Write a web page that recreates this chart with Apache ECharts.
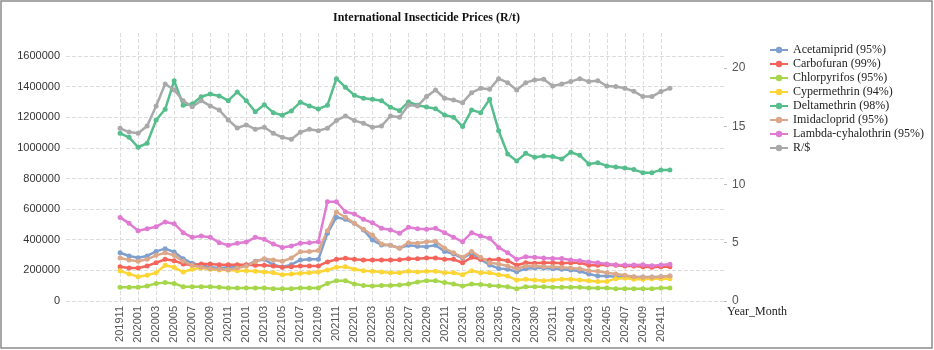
<!DOCTYPE html>
<html lang="en">
<head>
<meta charset="UTF-8">
<script src="https://cdn.jsdelivr.net/npm/echarts@6/dist/echarts.min.js"></script>
<title>International Insecticide Prices</title>
<style>
  html, body { margin: 0; padding: 0; background: #fff; }
</style>
</head>
<body>
<div id="main" style="width:934px;height:350px;"></div>
<script type="text/javascript">
// months 201911 .. 202412
var months = [
  '201911','201912','202001','202002','202003','202004','202005','202006','202007','202008','202009','202010','202011','202012',
  '202101','202102','202103','202104','202105','202106','202107','202108','202109','202110','202111','202112',
  '202201','202202','202203','202204','202205','202206','202207','202208','202209','202210','202211','202212',
  '202301','202302','202303','202304','202305','202306','202307','202308','202309','202310','202311','202312',
  '202401','202402','202403','202404','202405','202406','202407','202408','202409','202410','202411','202412'
];

// R/t values (left axis)
var acetamiprid = [315000,294000,283000,294000,324000,342000,320000,276000,246000,233000,220000,216000,220000,220000,
  233000,259000,272000,237000,222000,237000,268000,272000,272000,442000,547000,533000,
  507000,464000,398000,366000,364000,346000,364000,357000,355000,364000,324000,307000,
  279000,312000,272000,235000,213000,207000,191000,211000,216000,216000,211000,207000,
  202000,194000,176000,163000,163000,159000,159000,157000,157000,157000,159000,163000];
var carbofuran = [224000,216000,216000,229000,250000,272000,263000,242000,233000,242000,242000,237000,237000,237000,
  237000,233000,233000,229000,220000,224000,229000,229000,229000,255000,272000,279000,
  272000,268000,268000,268000,268000,270000,276000,276000,281000,281000,272000,272000,
  250000,285000,272000,268000,272000,263000,233000,250000,246000,250000,250000,246000,
  250000,250000,233000,233000,237000,233000,229000,229000,224000,220000,224000,224000];
var chlorpyrifos = [89000,89000,89000,98000,115000,120000,115000,93000,93000,93000,93000,89000,85000,85000,
  85000,85000,85000,80000,80000,80000,85000,85000,85000,115000,133000,133000,
  111000,102000,98000,102000,102000,105000,111000,124000,133000,133000,120000,111000,
  98000,111000,107000,102000,98000,93000,80000,93000,93000,93000,89000,89000,
  89000,89000,85000,85000,85000,80000,80000,80000,80000,80000,85000,85000];
var cypermethrin = [198000,176000,159000,168000,185000,233000,220000,189000,207000,216000,207000,202000,202000,198000,
  198000,194000,189000,185000,172000,176000,181000,185000,189000,202000,220000,224000,
  207000,198000,194000,189000,185000,185000,194000,189000,194000,194000,185000,185000,
  172000,198000,185000,185000,172000,163000,137000,142000,137000,133000,137000,142000,
  142000,137000,133000,128000,128000,146000,150000,142000,142000,146000,146000,146000];
var deltamethrin = [1095000,1069000,1004000,1030000,1182000,1252000,1439000,1278000,1287000,1334000,1352000,1339000,1308000,1365000,
  1308000,1236000,1282000,1230000,1213000,1241000,1298000,1274000,1254000,1278000,1452000,1396000,
  1343000,1324000,1317000,1308000,1265000,1243000,1300000,1278000,1267000,1256000,1215000,1200000,
  1139000,1247000,1230000,1317000,1112000,960000,914000,964000,938000,947000,943000,927000,
  971000,951000,895000,903000,882000,875000,869000,858000,838000,838000,856000,856000];
var imidacloprid = [281000,268000,259000,272000,298000,315000,298000,259000,233000,220000,211000,207000,202000,216000,
  229000,257000,276000,268000,259000,281000,322000,324000,329000,459000,581000,547000,
  507000,468000,431000,372000,364000,344000,381000,377000,387000,390000,344000,315000,
  285000,324000,285000,250000,242000,229000,211000,229000,229000,224000,224000,220000,
  216000,211000,198000,194000,185000,176000,168000,159000,155000,155000,159000,163000];
var lambda = [546000,507000,459000,472000,485000,516000,505000,446000,416000,424000,416000,381000,364000,377000,
  385000,416000,403000,372000,350000,359000,377000,381000,387000,648000,648000,583000,
  568000,533000,511000,475000,464000,442000,481000,472000,468000,475000,446000,416000,
  387000,446000,424000,409000,350000,315000,272000,289000,285000,281000,278000,278000,
  268000,263000,255000,250000,242000,237000,235000,235000,237000,230000,235000,240000];
// exchange rate (right axis)
var randDollar = [14.82,14.5,14.39,15.02,16.74,18.63,18.11,17.19,16.68,17.19,16.74,16.39,15.54,14.85,
  15.11,14.74,14.91,14.39,14.05,13.88,14.48,14.74,14.62,14.82,15.48,15.88,
  15.48,15.25,14.91,15.02,15.88,15.77,16.82,16.74,17.54,18.11,17.4,17.25,
  17.02,17.88,18.25,18.17,19.08,18.74,18.11,18.74,18.97,19.03,18.45,18.63,
  18.83,19.08,18.83,18.91,18.45,18.4,18.25,18.0,17.54,17.54,17.97,18.25];

var leftTicks = { min: 0, max: 1750000, interval: 200000 };
var rightTicks = { min: 0, max: 23, interval: 5 };

// empty slots either side of the months, as in the original
var PAD = 6;
var cats = [];
for (var i = 0; i < PAD; i++) cats.push('pre' + i);
cats = cats.concat(months);
for (var j = 0; j < PAD; j++) cats.push('post' + j);

function padded(arr) {
  var out = [];
  for (var k = 0; k < PAD; k++) out.push(null);
  return out.concat(arr);
}
function isShown(idx) {
  var m = idx - PAD;
  return m >= 0 && m < months.length && m % 2 === 0;
}

var names = ['Acetamiprid (95%)','Carbofuran (99%)','Chlorpyrifos (95%)','Cypermethrin (94%)',
  'Deltamethrin (98%)','Imidacloprid (95%)','Lambda-cyhalothrin (95%)','R/$'];
var colors = ['#7f9fcf','#f4645a','#a6d64a','#fdd535','#56be8c','#dca88a','#e07bd3','#a9a9a9'];
var values = [acetamiprid, carbofuran, chlorpyrifos, cypermethrin, deltamethrin, imidacloprid, lambda, randDollar];

var series = names.map(function (n, s) {
  return {
    name: n,
    type: 'line',
    yAxisIndex: s === 7 ? 1 : 0,
    data: padded(values[s]),
    symbol: 'circle',
    symbolSize: 5,
    showAllSymbol: true,
    lineStyle: { width: 2.5 },
    emphasis: { disabled: true }
  };
});

var myChart = echarts.init(document.getElementById('main'));
var option = {
  animation: false,
  color: colors,
  title: {
    text: 'International Insecticide Prices (R/t)',
    left: 328,
    top: 7,
    textStyle: { fontFamily: 'Liberation Serif', fontSize: 12, fontWeight: 'bold', color: '#111' }
  },
  legend: {
    orient: 'vertical',
    left: 764,
    top: 39,
    itemGap: 2,
    itemWidth: 18,
    itemHeight: 8,
    textStyle: { fontFamily: 'Liberation Serif', fontSize: 12, color: '#222' },
    data: names
  },
  grid: { left: 66, right: 210, top: 33, bottom: 49 },
  xAxis: {
    type: 'category',
    boundaryGap: false,
    data: cats,
    name: 'Year_Month',
    nameLocation: 'end',
    nameGap: 3,
    nameMoveOverlap: false,
    nameTextStyle: { fontFamily: 'Liberation Serif', fontSize: 12, color: '#222', verticalAlign: 'top', padding: [5, 0, 0, 0] },
    axisLine: { show: false },
    axisTick: { show: false },
    axisLabel: {
      interval: function (idx) { return isShown(idx); },
      rotate: 90,
      margin: 5,
      fontFamily: 'Liberation Sans',
      fontSize: 11,
      color: '#555'
    },
    splitLine: {
      show: true,
      interval: function (idx) { return isShown(idx); },
      lineStyle: { type: 'dashed', color: '#dcdcdc', width: 1 }
    }
  },
  yAxis: [
    {
      type: 'value',
      min: leftTicks.min,
      max: leftTicks.max,
      interval: leftTicks.interval,
      axisLine: { show: false },
      axisTick: { show: false },
      axisLabel: {
        showMaxLabel: false, margin: 6, fontFamily: 'Liberation Sans', fontSize: 11, color: '#333',
        formatter: function (v) { return String(v); }
      },
      splitLine: { show: true, showMaxLine: false, lineStyle: { type: 'dashed', color: '#dcdcdc', width: 1 } }
    },
    {
      type: 'value',
      min: rightTicks.min,
      max: rightTicks.max,
      interval: rightTicks.interval,
      position: 'right',
      axisLine: { show: false },
      axisTick: { show: true, length: 3, lineStyle: { color: '#bbb' } },
      axisLabel: { showMaxLabel: false, margin: 8, fontFamily: 'Liberation Sans', fontSize: 12, color: '#555' },
      splitLine: { show: false }
    }
  ],
  graphic: [{
    type: 'rect',
    shape: { x: 1, y: 1, width: 931, height: 347 },
    style: { fill: 'none', stroke: '#8c8c8c', lineWidth: 1.5 },
    silent: true
  }],
  series: series
};
myChart.setOption(option);
</script>
</body>
</html>
